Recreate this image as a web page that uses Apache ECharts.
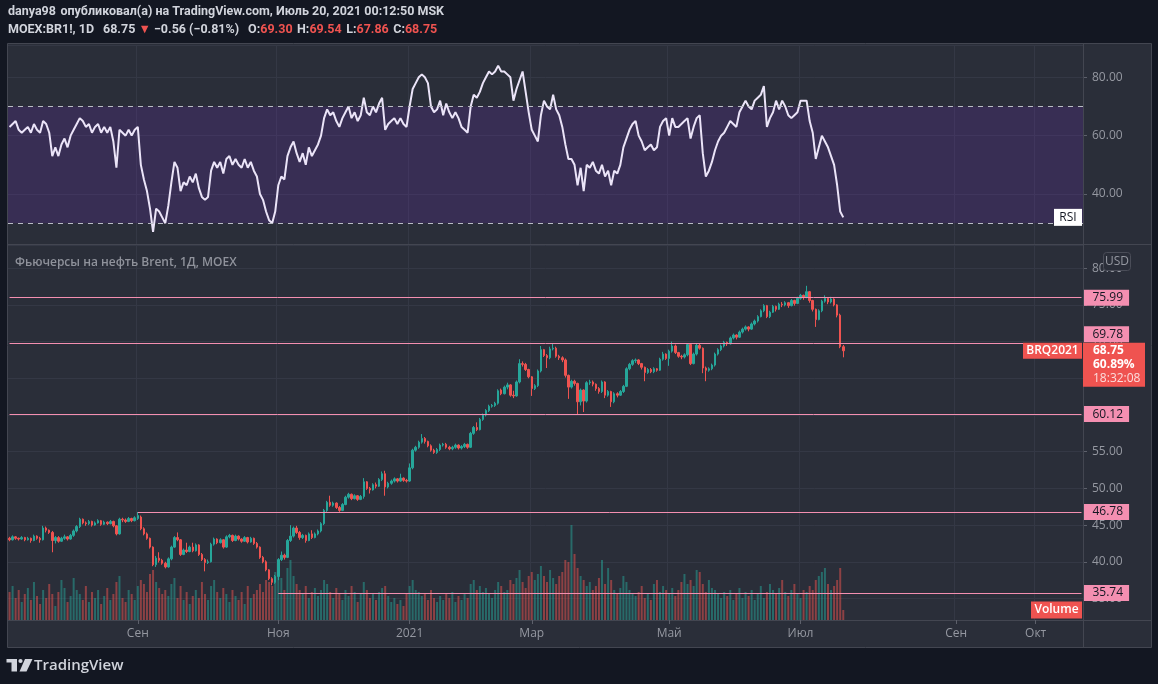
<!DOCTYPE html>
<html>
<head>
<meta charset="utf-8">
<script src="https://cdn.jsdelivr.net/npm/echarts@6/dist/echarts.min.js"></script>
<style>
  html, body { margin: 0; padding: 0; background: #131722; }
  #chart { width: 1158px; height: 684px; }
</style>
</head>
<body>
<div id="chart"></div>
<script>
// daily candles, [open, close, low, high]
const candles = [
  [43.2,43.0,42.8,43.4],[43.0,43.4,42.9,43.6],[43.4,43.2,43.0,43.5],[43.2,43.1,42.9,43.3],[43.1,43.3,43.0,43.5],
  [43.3,43.0,42.8,43.4],[43.0,43.2,42.9,43.4],[43.2,42.9,42.6,43.3],[42.9,43.5,42.8,43.7],[43.5,43.2,43.0,43.6],
  [43.2,43.0,42.6,43.4],[43.0,44.6,42.9,44.9],[44.6,44.3,44.0,44.8],[44.3,44.0,43.8,44.4],[44.0,42.9,41.3,44.2],
  [42.9,43.3,42.5,43.5],[43.3,42.8,42.6,43.5],[42.8,43.2,42.7,43.4],[43.2,43.4,43.0,43.7],[43.4,43.1,42.9,43.5],
  [43.1,43.6,43.0,43.8],[43.6,44.2,43.4,44.4],[44.2,44.8,44.0,45.0],[44.8,45.8,44.6,46.0],[45.8,45.3,45.1,45.9],
  [45.3,45.2,44.9,45.5],[45.2,45.5,45.0,45.7],[45.5,45.0,44.8,45.6],[45.0,45.3,44.9,45.5],[45.3,45.6,45.2,45.8],
  [45.6,45.1,44.9,45.7],[45.1,45.4,45.0,45.6],[45.4,45.2,45.0,45.5],[45.2,45.5,45.1,45.7],[45.5,44.9,44.7,45.6],
  [44.9,43.8,43.6,45.0],[43.8,45.8,43.7,46.0],[45.8,45.7,45.4,46.0],[45.7,45.5,45.3,45.9],[45.5,45.9,45.4,46.1],
  [45.9,45.6,45.4,46.0],[45.6,46.0,45.5,46.2],[45.9,46.3,45.7,46.78],[46.1,44.5,44.3,46.3],[44.5,43.8,43.6,44.7],
  [43.8,43.2,43.0,44.0],[43.2,42.0,41.8,43.3],[42.0,39.6,39.4,42.1],[39.6,40.5,39.3,40.8],[40.5,40.2,39.9,41.3],
  [40.2,39.8,39.6,40.4],[39.8,39.3,39.1,40.0],[39.3,40.4,39.2,40.6],[40.4,42.0,40.2,42.2],[42.0,43.3,41.9,43.5],
  [43.3,43.0,42.8,44.0],[43.0,41.0,40.8,43.1],[41.0,41.6,40.9,41.8],[41.6,41.4,41.2,42.6],[41.4,42.0,41.3,42.2],
  [42.0,41.5,41.3,42.6],[41.5,42.3,41.4,42.5],[42.3,41.0,40.8,42.4],[41.0,40.3,40.1,41.2],[40.3,39.9,38.7,40.5],
  [39.9,40.0,39.7,40.3],[40.0,42.4,39.9,42.6],[42.4,43.1,42.2,43.3],[43.1,42.6,42.4,43.2],[42.6,43.0,42.5,43.2],
  [43.0,42.0,41.8,43.1],[42.0,43.4,41.9,43.6],[43.4,43.6,43.2,43.8],[43.6,42.9,42.7,43.7],[42.9,43.5,42.8,43.7],
  [43.5,43.1,42.9,43.6],[43.1,42.8,42.6,43.2],[42.8,43.3,42.7,43.5],[43.3,42.7,42.5,43.4],[42.7,43.2,42.6,43.4],
  [43.2,42.5,42.3,43.3],[42.5,42.0,41.8,42.7],[42.0,40.6,40.4,42.1],[40.6,40.0,39.8,40.8],[40.0,38.9,38.7,40.2],
  [38.9,37.7,37.5,39.0],[37.7,37.2,36.8,37.9],[37.2,38.0,37.0,38.2],[38.0,40.3,37.5,40.5],[40.3,40.9,40.1,41.4],
  [40.9,40.6,40.3,41.1],[40.6,42.9,40.5,43.1],[42.9,43.5,42.7,45.0],[43.5,44.6,43.3,44.8],[44.6,44.0,43.8,44.9],
  [44.0,43.3,43.0,44.2],[43.3,43.6,43.1,43.8],[43.6,42.9,42.6,43.7],[42.9,43.8,42.8,44.0],[43.8,43.3,43.1,44.3],
  [43.3,43.8,43.2,44.0],[43.8,44.2,43.6,44.4],[44.2,45.2,44.0,45.4],[45.2,47.0,45.0,47.2],[47.0,48.1,46.8,48.3],
  [48.1,47.7,47.5,49.0],[47.7,48.0,47.5,48.2],[48.0,47.4,47.2,48.1],[47.4,47.0,46.8,47.6],[47.0,47.8,46.9,48.0],
  [47.8,48.8,47.7,49.0],[48.8,49.2,48.6,49.4],[49.2,48.6,48.4,49.3],[48.6,49.0,48.5,49.2],[49.0,48.5,48.3,49.1],
  [48.5,48.9,48.4,49.1],[48.9,50.9,48.6,51.4],[50.9,50.0,49.8,51.0],[50.0,49.8,49.3,50.2],[49.8,50.5,49.7,50.7],
  [50.5,50.3,50.0,50.8],[50.3,51.2,50.2,51.4],[51.2,52.0,51.0,52.3],[52.0,50.2,49.0,52.4],[50.2,50.7,50.0,50.9],
  [50.7,51.0,50.5,51.2],[51.0,51.3,50.8,51.5],[51.3,51.0,50.8,51.4],[51.0,51.4,50.9,52.0],[51.4,51.1,50.9,51.5],
  [51.1,51.0,50.8,51.3],[51.0,52.8,50.9,53.4],[52.8,55.2,52.6,55.4],[55.2,55.6,55.0,55.8],[55.6,56.3,55.4,56.5],
  [56.3,56.8,56.1,57.4],[56.8,56.4,56.1,57.0],[56.4,55.8,55.6,56.5],[55.8,55.2,55.0,56.0],[55.2,54.9,54.7,55.4],
  [54.9,55.3,54.7,55.5],[55.3,55.9,55.1,56.1],[55.9,56.0,55.7,56.2],[56.0,55.6,55.4,56.2],[55.6,55.4,55.2,55.8],
  [55.4,55.6,55.2,55.8],[55.6,55.9,55.4,56.1],[55.9,55.5,55.3,56.0],[55.5,55.7,55.3,55.9],[55.7,56.0,55.5,56.2],
  [56.0,55.6,55.4,56.1],[55.6,57.5,55.5,57.7],[57.5,58.3,57.3,58.5],[58.3,58.0,57.8,59.0],[58.0,59.4,57.9,59.6],
  [59.4,60.0,59.2,60.2],[60.0,60.6,59.8,60.8],[60.6,61.2,60.4,61.4],[61.2,61.3,61.0,61.5],[61.3,61.6,61.1,61.8],
  [61.6,63.3,61.4,63.5],[63.4,62.9,62.7,63.6],[62.9,63.8,62.8,64.0],[63.8,64.1,63.5,64.4],[64.1,62.7,62.5,64.2],
  [62.7,62.6,62.3,63.3],[62.6,64.5,62.5,64.7],[64.5,67.0,64.3,67.6],[67.0,66.9,66.6,67.3],[66.9,66.2,66.0,67.1],
  [66.2,65.2,65.0,66.3],[65.2,63.6,62.6,65.3],[63.6,64.0,63.4,64.2],[64.0,66.0,63.8,66.2],[66.0,68.9,65.8,69.4],
  [68.9,68.1,67.9,69.0],[68.1,67.8,66.4,68.3],[67.8,69.0,67.6,69.3],[69.0,69.1,68.8,69.8],[69.1,68.0,67.8,69.3],
  [68.0,67.8,67.5,68.2],[67.8,67.5,67.2,68.0],[67.5,65.4,65.1,67.7],[65.4,63.8,62.2,65.5],[63.8,64.6,63.6,64.8],
  [64.6,64.3,64.0,64.8],[64.3,61.8,60.12,64.4],[61.8,63.4,61.3,63.6],[63.4,61.9,60.4,63.5],[61.9,64.4,61.7,64.6],
  [64.4,64.5,64.1,64.8],[64.5,64.2,63.9,64.7],[64.2,63.6,63.3,64.3],[63.6,63.2,62.9,63.8],[63.2,64.5,63.0,64.7],
  [64.5,62.7,62.3,64.6],[62.7,63.2,62.5,63.4],[63.2,61.8,61.1,63.3],[61.8,62.9,61.6,63.1],[62.9,62.7,62.4,63.1],
  [62.7,63.2,62.6,63.4],[63.2,63.9,63.0,64.1],[63.9,66.3,63.8,66.5],[66.3,66.9,66.1,67.1],[66.9,67.4,66.7,67.6],
  [67.4,67.5,67.1,67.7],[67.5,67.0,66.8,67.6],[67.0,66.5,66.2,67.1],[66.5,65.8,64.6,66.6],[65.8,66.2,65.6,66.4],
  [66.2,65.9,65.7,66.4],[65.9,66.3,65.7,66.5],[66.3,66.1,65.9,66.4],[66.1,67.6,66.0,67.8],[67.6,68.3,67.4,68.6],
  [68.3,67.7,67.5,68.4],[67.7,68.7,66.7,68.9],[68.7,69.4,68.5,70.0],[69.4,68.5,68.3,69.6],[68.5,68.0,67.8,68.6],
  [68.0,67.9,67.6,68.2],[67.9,68.2,67.7,68.4],[68.2,69.6,68.0,69.8],[69.6,67.0,66.8,69.7],[67.0,68.3,66.9,68.5],
  [68.3,69.5,68.1,69.7],[69.5,69.1,68.9,69.7],[69.1,66.4,65.7,69.2],[66.4,66.1,64.6,66.6],[66.1,66.3,65.9,66.5],
  [66.3,66.8,66.1,67.0],[66.8,68.3,66.6,68.5],[68.3,68.9,68.1,69.1],[68.9,69.4,68.7,69.6],[69.4,69.9,69.2,70.1],
  [69.9,69.7,69.4,70.0],[69.7,70.5,69.6,70.7],[70.5,70.9,70.3,71.1],[70.9,70.6,70.3,71.0],[70.6,71.3,70.5,71.5],
  [71.3,71.7,71.1,71.9],[71.7,72.0,71.5,72.2],[72.0,71.7,71.4,72.1],[71.7,72.4,71.6,72.6],[72.4,72.8,72.2,73.0],
  [72.8,73.4,72.6,73.6],[73.4,74.2,73.3,74.4],[74.2,74.9,74.0,75.1],[74.9,73.4,73.2,75.0],[73.4,74.0,73.2,74.2],
  [74.0,74.8,73.9,75.0],[74.8,74.4,74.1,74.9],[74.4,75.1,74.3,75.3],[75.1,75.0,74.7,75.4],[75.0,75.3,74.8,75.5],
  [75.3,74.9,74.6,75.4],[74.9,75.6,74.8,75.8],[75.6,75.2,74.9,75.7],[75.2,75.9,75.1,76.1],[75.9,76.3,75.7,76.5],
  [76.3,76.0,75.7,76.4],[76.0,76.8,75.9,77.6],[76.8,75.6,75.3,76.9],[75.6,74.4,74.1,75.7],[74.4,73.0,72.0,74.5],
  [73.0,74.2,72.9,74.4],[74.2,75.5,74.0,75.7],[75.5,75.9,75.3,76.3],[75.9,75.4,75.1,76.0],[75.4,75.8,75.2,76.1],
  [75.8,75.0,74.8,75.9],[75.0,73.6,73.3,75.1],[73.6,69.31,69.1,73.8],[69.30,68.75,67.86,69.54]
];

// volume bar heights
const volumes = [
  28,34,22,30,18,26,32,20,38,24,16,
  30,22,36,26,14,28,40,32,18,24,
  42,30,26,20,34,18,28,22,30,16,
  24,32,20,26,38,44,22,18,30,26,
  20,34,40,36,28,46,50,38,32,26,
  30,24,36,42,22,34,20,28,16,24,
  30,22,38,26,20,34,40,28,22,32,
  26,18,30,24,20,28,16,34,22,26,
  30,36,28,40,38,34,48,58,42,30,
  52,60,44,36,30,26,34,22,28,32,
  24,30,40,36,28,22,32,26,20,30,
  24,34,28,18,26,38,30,22,26,20,
  28,32,34,24,18,22,16,20,14,26,
  34,40,30,28,24,26,20,30,22,18,
  24,20,26,22,28,18,24,20,26,22,
  36,40,30,34,28,32,26,22,30,38,
  34,28,30,40,36,42,50,38,32,44,
  48,40,46,54,44,38,50,42,36,44,
  48,60,58,95,66,52,44,40,34,38,
  30,34,42,60,36,52,40,30,26,32,
  44,38,30,26,24,28,34,22,26,20,
  36,40,28,34,30,26,32,24,30,38,
  46,36,40,34,50,48,36,28,40,32,
  30,26,22,28,24,30,20,26,32,22,
  28,24,30,20,26,34,22,28,36,30,
  26,32,40,28,24,30,36,26,22,30,
  28,34,30,40,44,48,52,36,30,34,
  40,52,10
];

const rsiValues = [
  63,64,65,62,61,62,63,61,64,62,61,
  65,64,61,53,56,53,57,59,56,60,
  62,64,66,65,63,64,61,63,64,61,
  63,61,63,58,49,62,61,60,62,60,
  62,63,50,45,41,35,27,35,34,32,
  30,36,44,51,49,41,44,43,46,44,
  47,42,39,38,39,48,51,49,51,47,
  52,53,50,52,50,49,52,49,51,48,
  46,40,38,34,31,30,34,43,46,45,
  53,56,58,54,51,54,50,56,53,55,
  57,60,66,69,67,68,65,63,66,68,
  70,66,68,65,67,73,68,67,70,68,
  71,73,62,64,65,66,64,66,64,63,
  70,76,78,80,81,80,78,70,68,69,
  72,67,71,68,66,68,66,63,62,61,
  70,74,73,75,78,80,82,81,82,84,
  82,82,81,80,72,76,79,82,75,68,
  62,60,58,67,72,70,69,74,69,67,
  63,57,52,52,50,43,49,41,50,49,
  51,48,47,50,46,48,43,48,47,50,
  56,59,62,64,65,60,58,55,56,57,
  55,56,63,65,66,60,66,63,63,64,
  65,66,59,63,66,67,54,46,48,51,
  55,58,60,61,63,65,64,63,68,70,
  72,70,69,72,73,74,77,63,66,68,
  72,69,72,70,67,66,67,68,72,72,
  72,65,61,52,56,60,58,56,53,50,
  43,34,32
];

const slotCount = 352;                 // bars plus empty future slots
const tickIndex = [42, 88, 131, 171, 216, 259, 310, 336];
const tickLabels = ['Сен', 'Ноя', '2021', 'Мар', 'Май', 'Июл', 'Сен', 'Окт'];

const levelPrices = [75.99, 69.78, 60.12, 46.78, 35.74];
const levelStart = [0, 0, 0, 42, 88];
const levelLabelShift = [0, -9, 0, 0, 0];   // 69.78 tag sits above the last-price tag

const lastPrice = 68.75;

const FONT = '"Open Sans", "Noto Sans", sans-serif';
const HEAD_FONT = 'Roboto, "Open Sans", sans-serif';
const UP = '#26a69a';
const DOWN = '#ef5350';
const GRID_LINE = '#343845';
const BORDER = '#434651';
const AXIS_TEXT = '#9598a1';
const PINK = '#f48fb1';

const slots = Array.from({ length: slotCount }, (_, i) => String(i));
const isTick = (i) => tickIndex.includes(i);

const volumeData = volumes.map((v, i) => ({
  value: v,
  itemStyle: { color: candles[i][1] >= candles[i][0] ? 'rgba(38,166,154,0.5)' : 'rgba(239,83,80,0.5)' }
}));

const levelLines = levelPrices.map((p, k) => [
  { name: p.toFixed(2), xAxis: levelStart[k], yAxis: p, label: { offset: [0, levelLabelShift[k]] } },
  { xAxis: slotCount - 1, yAxis: p }
]);

const chart = echarts.init(document.getElementById('chart'));

chart.setOption({
  animation: false,
  backgroundColor: '#131722',
  textStyle: { fontFamily: FONT },
  title: {
    left: 8,
    top: 3,
    padding: 0,
    text: '{b|danya98} {n|опубликовал(а) на TradingView.com, Июль 20, 2021 00:12:50 MSK}\n' +
          '{b|MOEX:BR1!, 1D}  {n|68.75}{r| ▼ }{n|−0.56 (−0.81%)}  {b|O:}{r|69.30} {b|H:}{r|69.54} {b|L:}{r|67.86} {b|C:}{r|68.75}',
    textStyle: {
      fontFamily: HEAD_FONT,
      lineHeight: 18,
      rich: {
        b: { fontFamily: HEAD_FONT, fontSize: 12.5, fontWeight: 'bold', color: '#d1d4dc', lineHeight: 18 },
        n: { fontFamily: HEAD_FONT, fontSize: 12.5, color: '#d1d4dc', lineHeight: 18 },
        r: { fontFamily: HEAD_FONT, fontSize: 12.5, color: '#ef5350', lineHeight: 18 }
      }
    }
  },
  grid: [
    { left: 8, right: 75, top: 45, height: 199 },
    { left: 8, right: 75, top: 245, height: 375 }
  ],
  xAxis: [
    {
      type: 'category', gridIndex: 0, data: slots, boundaryGap: true,
      axisLine: { show: false }, axisTick: { show: false }, axisLabel: { show: false },
      splitLine: { show: true, interval: isTick, lineStyle: { color: GRID_LINE } }
    },
    {
      type: 'category', gridIndex: 1, data: slots, boundaryGap: true,
      axisLine: { show: true, lineStyle: { color: BORDER } },
      axisTick: { show: true, alignWithLabel: true, interval: isTick, length: 4, lineStyle: { color: '#5d606b' } },
      axisLabel: {
        interval: isTick,
        formatter: (v, i) => tickLabels[tickIndex.indexOf(i)] || '',
        color: AXIS_TEXT, fontSize: 12, margin: 8, fontFamily: FONT
      },
      splitLine: { show: true, interval: isTick, lineStyle: { color: GRID_LINE } }
    }
  ],
  yAxis: [
    {
      type: 'value', gridIndex: 0, position: 'right', min: 22.87, max: 91.07, splitNumber: 3,
      axisLine: { show: true, lineStyle: { color: BORDER } },
      axisTick: { show: true, length: 4, lineStyle: { color: '#5d606b' } },
      axisLabel: {
        showMinLabel: false, showMaxLabel: false, margin: 9,
        formatter: (v) => v.toFixed(2), color: AXIS_TEXT, fontSize: 12, fontFamily: FONT
      },
      splitLine: { show: true, lineStyle: { color: GRID_LINE } }
    },
    {
      type: 'value', gridIndex: 1, position: 'right', min: 32.07, max: 83.16, splitNumber: 10,
      axisLine: { show: true, lineStyle: { color: BORDER } },
      axisTick: { show: true, length: 4, lineStyle: { color: '#5d606b' } },
      axisLabel: {
        showMinLabel: false, showMaxLabel: false, margin: 9,
        formatter: (v) => v.toFixed(2), color: AXIS_TEXT, fontSize: 12, fontFamily: FONT
      },
      splitLine: { show: true, lineStyle: { color: GRID_LINE } }
    },
    { type: 'value', gridIndex: 1, min: 0, max: 375, show: false, splitLine: { show: false } }
  ],
  series: [
    {
      name: 'RSI', type: 'line', xAxisIndex: 0, yAxisIndex: 0,
      data: rsiValues, symbol: 'none', z: 4,
      lineStyle: { color: '#ebe4f8', width: 2 },
      markArea: {
        silent: true,
        itemStyle: { color: 'rgba(110,50,180,0.22)' },
        data: [[{ yAxis: 30 }, { yAxis: 70 }]]
      },
      markLine: {
        silent: true, symbol: ['none', 'none'],
        label: { show: false },
        lineStyle: { color: '#b9bcc4', type: [5, 5], width: 1 },
        data: [{ yAxis: 70 }, { yAxis: 30 }]
      }
    },
    {
      name: 'Volume', type: 'bar', xAxisIndex: 1, yAxisIndex: 2,
      data: volumeData, barWidth: 2, z: 1
    },
    {
      name: 'BRQ2021', type: 'candlestick', xAxisIndex: 1, yAxisIndex: 1,
      data: candles, barWidth: 2, z: 3,
      itemStyle: { color: UP, color0: DOWN, borderColor: UP, borderColor0: DOWN, borderWidth: 1 },
      markLine: {
        silent: true, symbol: ['none', 'none'],
        lineStyle: { color: PINK, width: 1, type: 'solid' },
        label: {
          show: true, position: 'end', distance: 2, formatter: '{b}',
          backgroundColor: PINK, color: '#131722', fontSize: 12, fontFamily: FONT,
          padding: [2, 6, 1, 9], lineHeight: 13
        },
        data: levelLines
      }
    }
  ]
});

// overlays placed from the axes' own scales
const yPrice = chart.convertToPixel({ yAxisIndex: 1 }, lastPrice);
const yRsi = chart.convertToPixel({ yAxisIndex: 0 }, rsiValues[rsiValues.length - 1]);
const yVol = chart.convertToPixel({ yAxisIndex: 2 }, volumes[volumes.length - 1]);

chart.setOption({
  graphic: [
    { type: 'rect', z: -10, shape: { x: 7.5, y: 43.5, width: 1144, height: 604 },
      style: { fill: '#2a2e39', stroke: BORDER, lineWidth: 1 } },
    { type: 'line', z: 50, shape: { x1: 7.5, y1: 244.5, x2: 1151.5, y2: 244.5 }, style: { stroke: BORDER, lineWidth: 1 } },
    { type: 'line', z: 50, shape: { x1: 1083, y1: 620.5, x2: 1151.5, y2: 620.5 }, style: { stroke: BORDER, lineWidth: 1 } },
    { type: 'line', z: 50, shape: { x1: 1083.5, y1: 43.5, x2: 1083.5, y2: 647.5 }, style: { stroke: BORDER, lineWidth: 1 } },

    { type: 'text', z: 50, x: 15, y: 262.5,
      style: { text: 'Фьючерсы на нефть Brent, 1Д, MOEX', fill: '#8f929b', font: '600 12px ' + FONT, verticalAlign: 'middle' } },

    { type: 'rect', z: 60, shape: { x: 1103.5, y: 252.5, width: 27, height: 18, r: 3 },
      style: { fill: '#2a2e39', stroke: '#4a4d58', lineWidth: 1 } },
    { type: 'text', z: 61, x: 1117, y: 262,
      style: { text: 'USD', fill: AXIS_TEXT, font: '12px ' + FONT, align: 'center', verticalAlign: 'middle' } },

    { type: 'rect', z: 60, shape: { x: 1083, y: yPrice - 8, width: 62, height: 44 }, style: { fill: DOWN } },
    { type: 'text', z: 61, x: 1093, y: yPrice,
      style: { text: '68.75', fill: '#ffffff', font: 'bold 12px ' + FONT, verticalAlign: 'middle' } },
    { type: 'text', z: 61, x: 1093, y: yPrice + 14,
      style: { text: '60.89%', fill: '#ffffff', font: 'bold 12px ' + FONT, verticalAlign: 'middle' } },
    { type: 'text', z: 61, x: 1093, y: yPrice + 28,
      style: { text: '18:32:08', fill: 'rgba(255,255,255,0.8)', font: '12px ' + FONT, verticalAlign: 'middle' } },

    { type: 'rect', z: 60, shape: { x: 1023, y: yPrice - 8, width: 59, height: 16 }, style: { fill: DOWN } },
    { type: 'text', z: 61, x: 1052.5, y: yPrice,
      style: { text: 'BRQ2021', fill: '#ffffff', font: '600 12px ' + FONT, align: 'center', verticalAlign: 'middle' } },

    { type: 'rect', z: 60, shape: { x: 1054, y: yRsi - 8.5, width: 28, height: 17 }, style: { fill: '#ffffff' } },
    { type: 'text', z: 61, x: 1068, y: yRsi,
      style: { text: 'RSI', fill: '#131722', font: '12px ' + FONT, align: 'center', verticalAlign: 'middle' } },

    { type: 'rect', z: 60, shape: { x: 1031, y: yVol - 8.5, width: 51, height: 17 }, style: { fill: DOWN } },
    { type: 'text', z: 61, x: 1056.5, y: yVol,
      style: { text: 'Volume', fill: '#ffffff', font: '600 12px ' + FONT, align: 'center', verticalAlign: 'middle' } },

    // TradingView logo
    { type: 'rect', z: 50, shape: { x: 6.5, y: 659, width: 10.5, height: 3.5 }, style: { fill: '#d1d4dc' } },
    { type: 'rect', z: 50, shape: { x: 11.5, y: 659, width: 5.5, height: 12.5 }, style: { fill: '#d1d4dc' } },
    { type: 'circle', z: 50, shape: { cx: 20.5, cy: 661, r: 2.1 }, style: { fill: '#d1d4dc' } },
    { type: 'polygon', z: 50, shape: { points: [[25, 659], [32.5, 659], [26.5, 671.5], [19.5, 671.5]] }, style: { fill: '#d1d4dc' } },
    { type: 'text', z: 50, x: 34, y: 665.5,
      style: { text: 'TradingView', fill: '#d1d4dc', font: '600 15px ' + FONT, verticalAlign: 'middle' } }
  ]
});
</script>
</body>
</html>
